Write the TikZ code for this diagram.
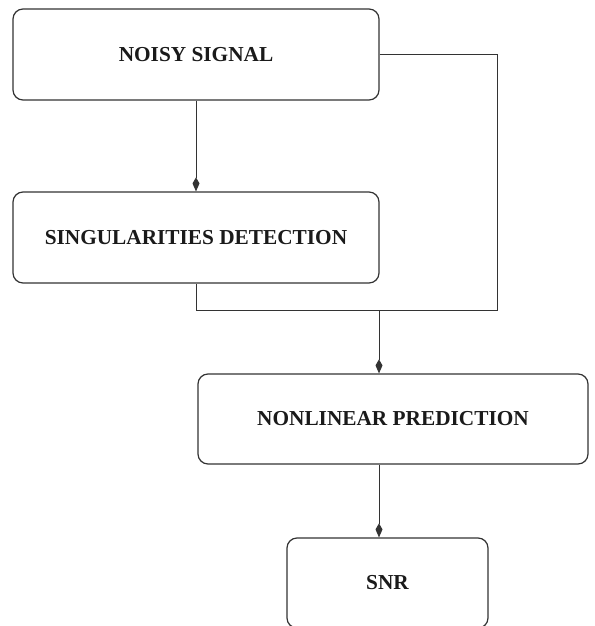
\documentclass[tikz,border=0pt]{standalone}
\usepackage{fontspec}
\setmainfont{Liberation Serif}
\usetikzlibrary{arrows.meta}
\definecolor{linec}{HTML}{333333}
\definecolor{textc}{HTML}{1A1A1A}
\begin{document}
\begin{tikzpicture}[x=1pt,y=-1pt,
  box/.style={draw=linec, line width=1.2pt, rounded corners=10pt,
    font=\fontsize{21.3}{25}\selectfont\bfseries, text=textc, inner sep=0pt},
  conn/.style={draw=linec, line width=1pt},
  arr/.style={conn, -{Kite[length=14pt,width=7pt,inset=6pt]}}]
\path[use as bounding box, clip] (0,0) rectangle (594,626);
\node[box, minimum width=366pt, minimum height=91pt] (b1) at (196,54.5) {NOISY SIGNAL};
\node[box, minimum width=366pt, minimum height=91pt] (b2) at (196,237.5) {SINGULARITIES DETECTION};
\node[box, minimum width=390pt, minimum height=90pt] (b3) at (393,419) {NONLINEAR PREDICTION};
\node[box, minimum width=201pt, minimum height=90pt] (b4) at (387.5,583) {SNR};
\coordinate (jr) at (497,310);
\coordinate (j) at (379,310);
\draw[arr] (b1.south) -- (b2.north);
\draw[conn] (b1.east) -- (b1.east -| jr) -- (jr) -- (b2.south |- jr) -- (b2.south);
\draw[arr] (j) -- (j |- b3.north);
\draw[arr] (j |- b3.south) -- (j |- b4.north);
\end{tikzpicture}
\end{document}
